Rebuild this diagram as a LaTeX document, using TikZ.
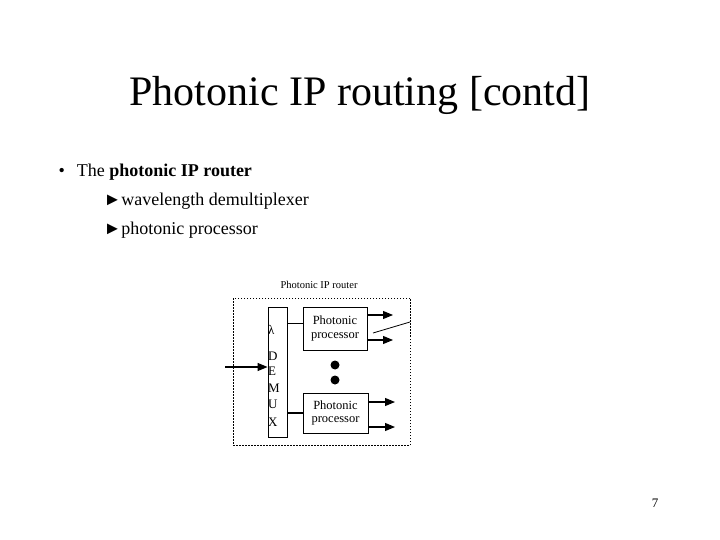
\documentclass[tikz,border=0pt]{standalone}
\usepackage{fontspec}
\setmainfont{Liberation Serif}
\usetikzlibrary{arrows.meta}
\begin{document}
\begin{tikzpicture}[x=1pt,y=-1pt,
  blk/.style={draw,line width=0.9pt,inner sep=0pt},
  arr/.style={-{Triangle[length=10pt,width=8pt]},line width=1.1pt},
  dot/.style={circle,fill,inner sep=0pt,minimum size=9pt},
  let/.style={inner sep=0pt,anchor=west,font=\fontsize{13}{14}\selectfont}]
\useasboundingbox (0,0) rectangle (720,540);
\node (title) at (360,95) {\fontsize{42}{46}\selectfont Photonic IP routing [contd]};
\node[anchor=west] (b1) at (55,172) {\fontsize{18}{20}\selectfont •\hspace{12pt}The \textbf{photonic IP router}};
\node[anchor=west] (b2) at (100,201) {\fontsize{18}{20}\selectfont ►wavelength demultiplexer};
\node[anchor=west] (b3) at (100,230) {\fontsize{18}{20}\selectfont ►photonic processor};
\node (fig) at (319,285) {\fontsize{10.5}{12}\selectfont Photonic IP router};
\draw[dashed,line width=0.8pt,dash pattern=on 1.5pt off 1.5pt] (233,298) rectangle (410,445);
\node[blk,minimum width=19pt,minimum height=130pt] (dm) at (277.5,372) {};
\node[let] (l0) at (268,330) {λ};
\node[let] (l1) at (268,356) {D};
\node[let] (l2) at (268,371) {E};
\node[let] (l3) at (268,388) {M};
\node[let] (l4) at (268,404) {U};
\node[let] (l5) at (268,422) {X};
\node[blk,minimum width=64pt,minimum height=43pt,align=center,font=\fontsize{12.5}{13.5}\selectfont] (p1) at (335,328.5) {Photonic\\processor};
\node[blk,minimum width=65pt,minimum height=40pt,align=center,font=\fontsize{12.5}{13.5}\selectfont] (p2) at (335.5,413) {Photonic\\processor};
\coordinate (c1) at (290,323); \coordinate (c2) at (290,413);
\draw[line width=0.7pt] (dm.east|-c1) -- (p1.west|-c1);
\draw[line width=1.2pt] (dm.east|-c2) -- (p2.west|-c2);
\coordinate (in) at (225,367);
\draw[arr] (in) -- (dm.west|-in);
\coordinate (o1) at (393,315); \coordinate (o2) at (393,340);
\coordinate (o3) at (395,402); \coordinate (o4) at (395,427);
\draw[arr] (p1.east|-o1) -- (o1);
\draw[arr] (p1.east|-o2) -- (o2);
\draw[arr] (p2.east|-o3) -- (o3);
\draw[arr] (p2.east|-o4) -- (o4);
\coordinate (s1) at (373,333); \coordinate (s2) at (410,322);
\draw[line width=0.8pt] (s1) -- (s2);
\node[dot] (d1) at (335,365) {};
\node[dot] (d2) at (335,380) {};
\node (pg) at (655,503) {\fontsize{13}{14}\selectfont 7};
\end{tikzpicture}
\end{document}
